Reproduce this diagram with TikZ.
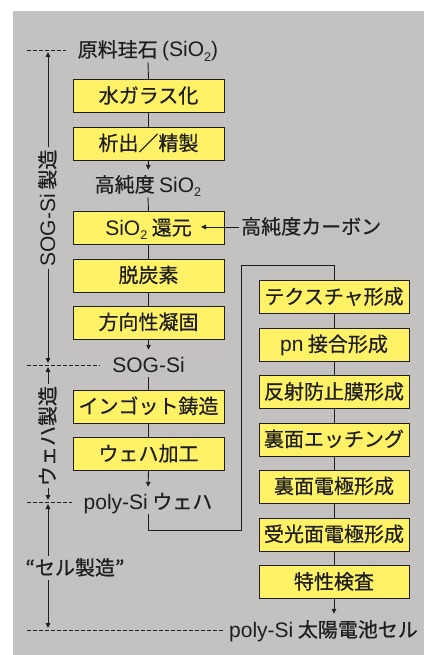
\documentclass[tikz,border=0pt]{standalone}
\usepackage{fontspec}
\setmainfont{Noto Sans CJK JP}[FakeBold=0.6]
\newfontfamily\lat{Liberation Sans}[Scale=1.05]
\usetikzlibrary{arrows.meta}
\definecolor{bg}{RGB}{196,194,193}
\definecolor{boxy}{RGB}{255,242,102}
\definecolor{ink}{RGB}{30,30,30}
\newcommand\subtwo{\raisebox{-0.45ex}{\lat\fontsize{12pt}{12pt}\selectfont 2}}
\begin{document}
\begin{tikzpicture}[x=1pt,y=-1pt,
  proc/.style={draw=ink, line width=0.9pt, fill=boxy, minimum width=151pt, minimum height=33pt,
    inner sep=0pt, text=ink, text height=17pt, text depth=3pt, font=\fontsize{20pt}{22pt}\selectfont},
  lbl/.style={text=ink, inner sep=2pt, text height=17pt, text depth=3pt, font=\fontsize{20pt}{22pt}\selectfont},
  link/.style={draw=ink, line width=0.9pt},
  arr/.style={link, -{Triangle[length=5pt,width=4.5pt]}},
  guide/.style={draw=ink, line width=0.9pt, dash pattern=on 3.5pt off 2.5pt},
]
\useasboundingbox (0,0) rectangle (424,655);
\fill[bg] (13,11) rectangle (424,655);

% left column
\node[lbl] (raw) at (148,50) {原料珪石 {\lat(SiO\subtwo)}};
\node[proc] (b1) at (148.5,96) {水ガラス化};
\node[proc] (b2) at (148.5,143.5) {析出／精製};
\node[lbl] (hsio) at (148,185) {高純度 {\lat SiO\subtwo}};
\node[proc] (b3) at (148.5,228) {{\lat SiO\subtwo} 還元};
\node[proc] (b4) at (148.5,275.5) {脱炭素};
\node[proc] (b5) at (148.5,322.5) {方向性凝固};
\node[lbl] (sog) at (148.5,365) {\lat SOG-Si};
\node[proc] (b6) at (148.5,406.5) {インゴット鋳造};
\node[proc] (b7) at (148.5,454) {ウェハ加工};
\node[lbl] (wafer) at (148,502) {{\lat poly-Si} ウェハ};
\node[lbl, anchor=west] (carbon) at (239,227) {高純度カーボン};

% right column
\node[proc, minimum width=150pt] (r1) at (334,297) {テクスチャ形成};
\node[proc, minimum width=150pt] (r2) at (334,344.5) {{\lat pn} 接合形成};
\node[proc, minimum width=150pt] (r3) at (334,392) {反射防止膜形成};
\node[proc, minimum width=150pt] (r4) at (334,439.5) {裏面エッチング};
\node[proc, minimum width=150pt] (r5) at (334,486.5) {裏面電極形成};
\node[proc, minimum width=150pt] (r6) at (334,534.5) {受光面電極形成};
\node[proc, minimum width=150pt] (r7) at (334,582) {特性検査};
\node[lbl, anchor=west] (cell) at (227,630) {{\lat poly-Si} 太陽電池セル};

% flow connectors
\draw[link] (raw.south) -- (b1.north);
\draw[link] (b1) -- (b2);
\draw[arr, shorten >=3pt] (b2.south) -- (hsio.north);
\draw[link] (hsio.south) -- (b3.north);
\draw[link] (b3) -- (b4);
\draw[link] (b4) -- (b5);
\draw[arr, shorten >=3pt] (b5.south) -- (sog.north);
\draw[link] (sog.south) -- (b6.north);
\draw[link] (b6) -- (b7);
\draw[arr, shorten >=3pt] (b7.south) -- (wafer.north);
\coordinate (cin) at (201,227);
\draw[arr] (carbon.west) -- (cin);
\coordinate (bendA) at (241,530);
\coordinate (bendB) at (241,265);
\draw[link] (wafer.south) |- (bendA) -- (bendB) -| (r1.north);
\draw[link] (r1) -- (r2);
\draw[link] (r2) -- (r3);
\draw[link] (r3) -- (r4);
\draw[link] (r4) -- (r5);
\draw[link] (r5) -- (r6);
\draw[link] (r6) -- (r7);
\draw[arr, shorten >=4pt] (r7.south) -- (r7.south |- cell.north);

% stage guides
\coordinate (d1a) at (27,50);  \coordinate (d1b) at (66,50);
\coordinate (d2a) at (27,365); \coordinate (d2b) at (100,365);
\coordinate (d3a) at (27,502); \coordinate (d3b) at (72,502);
\coordinate (d4a) at (27,630); \coordinate (d4b) at (224,630);
\draw[guide] (d1a) -- (d1b);
\draw[guide] (d2a) -- (d2b);
\draw[guide] (d3a) -- (d3b);
\draw[guide] (d4a) -- (d4b);

\node[lbl, rotate=90] (sogm) at (48,208) {{\lat SOG-Si} 製造};
\coordinate (s1top) at (48,52);
\coordinate (s1bot) at (48,363);
\draw[arr] (sogm.east) -- (s1top);
\draw[arr] (sogm.west) -- (s1bot);

\node[lbl, rotate=90] (wafm) at (48,436) {ウェハ製造};
\coordinate (s2top) at (48,367);
\coordinate (s2bot) at (48,500);
\draw[arr] (wafm.east) -- (s2top);
\draw[arr] (wafm.west) -- (s2bot);

\node[lbl] (cellm) at (75,568) {“セル製造”};
\coordinate (s3top) at (48,504);
\coordinate (s3bot) at (48,628);
\draw[arr] (cellm.north -| s3top) -- (s3top);
\draw[arr] (cellm.south -| s3bot) -- (s3bot);
\end{tikzpicture}
\end{document}
